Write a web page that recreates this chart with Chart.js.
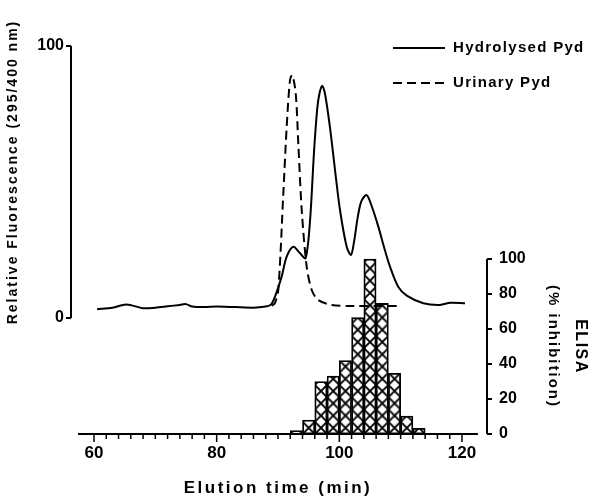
<!DOCTYPE html>
<html>
<head>
<meta charset="utf-8">
<script src="https://cdn.jsdelivr.net/npm/chart.js@4"></script>
<style>
  body { margin: 0; background: #fff; }
  #wrap { width: 600px; height: 501px; position: relative; }
</style>
</head>
<body>
<div id="wrap"><canvas id="chart"></canvas></div>
<script>
// fluorescence traces (min, relative fluorescence)
const hydrolysedTime = [60.5, 63, 65.3, 68, 70, 72, 74, 75, 76, 78, 80, 83, 86, 88, 88.8, 89.5, 90.6, 91.4, 92.5, 93.6, 94.5, 95.2, 95.9, 96.4, 96.8, 97.22, 97.7, 98.48, 99.3, 100.11, 101.2, 101.9, 102.4, 103.0, 103.6, 104.46, 105.3, 106.36, 107.3, 108.26, 109.6, 111, 113.7, 116.4, 118.1, 120.5];
const hydrolysedFl = [3.2, 3.8, 5.0, 3.6, 3.8, 4.3, 4.8, 5.1, 4.2, 4.0, 4.2, 4.0, 3.8, 4.2, 4.8, 7.8, 15.2, 22.5, 26.2, 23.8, 22, 35, 62, 77, 83, 85.3, 82, 70, 54.4, 39.7, 26.2, 23.2, 28, 37, 43, 45.2, 41, 33.6, 26, 18.9, 11.5, 8.2, 5.4, 4.8, 5.6, 5.4];

const urinaryTime = [89.0, 89.5, 90.05, 90.87, 91.42, 91.96, 92.33, 92.89, 93.31, 93.87, 94.68, 95.5, 96.57, 98.76, 102, 106, 110];
const urinaryFl = [4.5, 5.5, 10.3, 45.8, 70.3, 87.5, 89.3, 82.6, 64.2, 39.7, 18.9, 10.3, 6.6, 4.8, 4.4, 4.4, 4.4];

// ELISA fractions (min, % inhibition)
const elisaTime = [93, 95, 97, 99, 101, 103, 105, 107, 109, 111, 113];
const elisaInhib = [1.9, 8, 30, 33.1, 42, 66.5, 100, 74.6, 34.7, 10.3, 3.2];

const xTickLabels = [60, 80, 100, 120];
const leftTickLabels = [0, 100];
const rightTickLabels = [0, 20, 40, 60, 80, 100];

const pts = (xs, ys) => xs.map((x, i) => ({ x: x, y: ys[i] }));

// cross-hatch fill for the bars
const tile = document.createElement('canvas');
tile.width = 12;
tile.height = 12;
const tc = tile.getContext('2d');
tc.fillStyle = '#fff';
tc.fillRect(0, 0, 12, 12);
tc.strokeStyle = '#000';
tc.lineWidth = 1.9;
tc.beginPath();
tc.moveTo(-2, -2); tc.lineTo(14, 14);
tc.moveTo(14, -2); tc.lineTo(-2, 14);
tc.stroke();
const hatch = tc.createPattern(tile, 'repeat');

const boldFont = (size) => 'bold ' + size + 'px "Liberation Sans", Arial, sans-serif';

const axesPlugin = {
    id: 'axes',
    beforeDatasetsDraw(chart) {
        const x = chart.scales.x, yE = chart.scales.yE;
        const left = x.getPixelForValue(elisaTime[0] - 1);
        const bw = x.getPixelForValue(elisaTime[0] + 1) - left;
        const bottom = yE.getPixelForValue(0);
        const k = bw / 12;
        hatch.setTransform(new DOMMatrix([k, 0, 0, k, left, bottom]));
    },
    afterDraw(chart) {
        const ctx = chart.ctx;
        const x = chart.scales.x, yF = chart.scales.yF, yE = chart.scales.yE;
        const base = yE.getPixelForValue(0);
        ctx.save();
        ctx.strokeStyle = '#000';
        ctx.lineWidth = 2;
        ctx.beginPath();
        // left axis
        const lx = yF.right;
        ctx.moveTo(lx, yF.getPixelForValue(0));
        ctx.lineTo(lx, yF.getPixelForValue(100));
        leftTickLabels.forEach(v => {
            ctx.moveTo(lx, yF.getPixelForValue(v));
            ctx.lineTo(lx - 5, yF.getPixelForValue(v));
        });
        // bottom axis
        ctx.moveTo(x.getPixelForValue(57.4), base);
        ctx.lineTo(x.getPixelForValue(122.6), base);
        // right axis
        const rx = yE.left;
        ctx.moveTo(rx, yE.getPixelForValue(0));
        ctx.lineTo(rx, yE.getPixelForValue(100));
        rightTickLabels.forEach(v => {
            ctx.moveTo(rx, yE.getPixelForValue(v));
            ctx.lineTo(rx + 5, yE.getPixelForValue(v));
        });
        ctx.stroke();
        ctx.lineWidth = 1.5;
        ctx.beginPath();
        for (let t = 60; t <= 120; t += 2) {
            const px = x.getPixelForValue(t);
            ctx.moveTo(px, base);
            ctx.lineTo(px, base + (t % 20 === 0 ? 8 : 5));
        }
        ctx.stroke();

        // legend
        ctx.fillStyle = '#000';
        ctx.font = boldFont(15);
        ctx.letterSpacing = '1.3px';
        ctx.textBaseline = 'middle';
        ctx.textAlign = 'left';
        const rows = [[chart.data.datasets[0], 48], [chart.data.datasets[1], 83]];
        rows.forEach(([ds, ly]) => {
            ctx.lineWidth = 2;
            ctx.setLineDash(ds.borderDash || []);
            ctx.beginPath();
            ctx.moveTo(393, ly);
            ctx.lineTo(445, ly);
            ctx.stroke();
            ctx.setLineDash([]);
            ctx.fillText(ds.label, 453, ly);
        });

        // axis titles
        ctx.textAlign = 'center';
        ctx.font = boldFont(14);
        ctx.letterSpacing = '2px';
        ctx.save();
        ctx.translate(13, (yF.getPixelForValue(0) + yF.getPixelForValue(100)) / 2 - 10);
        ctx.rotate(-Math.PI / 2);
        ctx.fillText('Relative Fluorescence (295/400 nm)', 0, 0);
        ctx.restore();

        const my = (yE.getPixelForValue(0) + yE.getPixelForValue(100)) / 2;
        ctx.save();
        ctx.translate(553, my);
        ctx.rotate(Math.PI / 2);
        ctx.font = boldFont(15);
        ctx.fillText('(% inhibition)', 0, 0);
        ctx.restore();
        ctx.save();
        ctx.translate(580, my);
        ctx.rotate(Math.PI / 2);
        ctx.font = boldFont(16);
        ctx.letterSpacing = '1.5px';
        ctx.fillText('ELISA', 0, 0);
        ctx.restore();

        ctx.font = boldFont(17);
        ctx.letterSpacing = '2.5px';
        ctx.fillText('Elution time (min)', (x.getPixelForValue(60) + x.getPixelForValue(120)) / 2, 488);
        ctx.restore();
    }
};

const tickFont = { family: '"Liberation Sans", Arial, sans-serif', size: 16, weight: 'bold' };
const xTickFont = { family: '"Liberation Sans", Arial, sans-serif', size: 17, weight: 'bold' };

new Chart(document.getElementById('chart'), {
    type: 'bar',
    data: {
        datasets: [
            {
                type: 'line',
                label: 'Hydrolysed Pyd',
                data: pts(hydrolysedTime, hydrolysedFl),
                yAxisID: 'yF',
                borderColor: '#000',
                borderWidth: 2,
                pointRadius: 0,
                tension: 0.3,
                fill: false
            },
            {
                type: 'line',
                label: 'Urinary Pyd',
                data: pts(urinaryTime, urinaryFl),
                yAxisID: 'yF',
                borderColor: '#000',
                borderWidth: 2,
                borderDash: [9, 5],
                pointRadius: 0,
                tension: 0.3,
                fill: false
            },
            {
                type: 'bar',
                label: 'ELISA',
                data: pts(elisaTime, elisaInhib),
                yAxisID: 'yE',
                backgroundColor: hatch,
                borderColor: '#000',
                borderWidth: 1.8,
                borderSkipped: false,
                barPercentage: 1,
                categoryPercentage: 1
            }
        ]
    },
    options: {
        responsive: true,
        maintainAspectRatio: false,
        animation: false,
        layout: { padding: { top: 46 } },
        plugins: {
            legend: { display: false },
            tooltip: { enabled: false }
        },
        scales: {
            x: {
                type: 'linear',
                position: 'bottom',
                offset: false,
                min: 56.25,
                max: 124.08,
                grid: { display: false, drawTicks: false },
                border: { display: false },
                afterBuildTicks: s => { s.ticks = xTickLabels.map(v => ({ value: v })); },
                ticks: { font: xTickFont, color: '#000', padding: 9, maxRotation: 0, autoSkip: false },
                afterFit: s => { s.height = 67; }
            },
            yF: {
                type: 'linear',
                position: 'left',
                min: -42.65,
                max: 100,
                grid: { display: false, drawTicks: false },
                border: { display: false },
                afterBuildTicks: s => { s.ticks = leftTickLabels.map(v => ({ value: v })); },
                ticks: { font: tickFont, color: '#000', padding: 7 },
                afterFit: s => { s.width = 71; }
            },
            yE: {
                type: 'linear',
                position: 'right',
                min: 0,
                max: 221.7,
                grid: { display: false, drawTicks: false },
                border: { display: false },
                afterBuildTicks: s => { s.ticks = rightTickLabels.map(v => ({ value: v })); },
                ticks: { font: tickFont, color: '#000', padding: 12 },
                afterFit: s => { s.width = 113; }
            }
        }
    },
    plugins: [axesPlugin]
});
</script>
</body>
</html>
